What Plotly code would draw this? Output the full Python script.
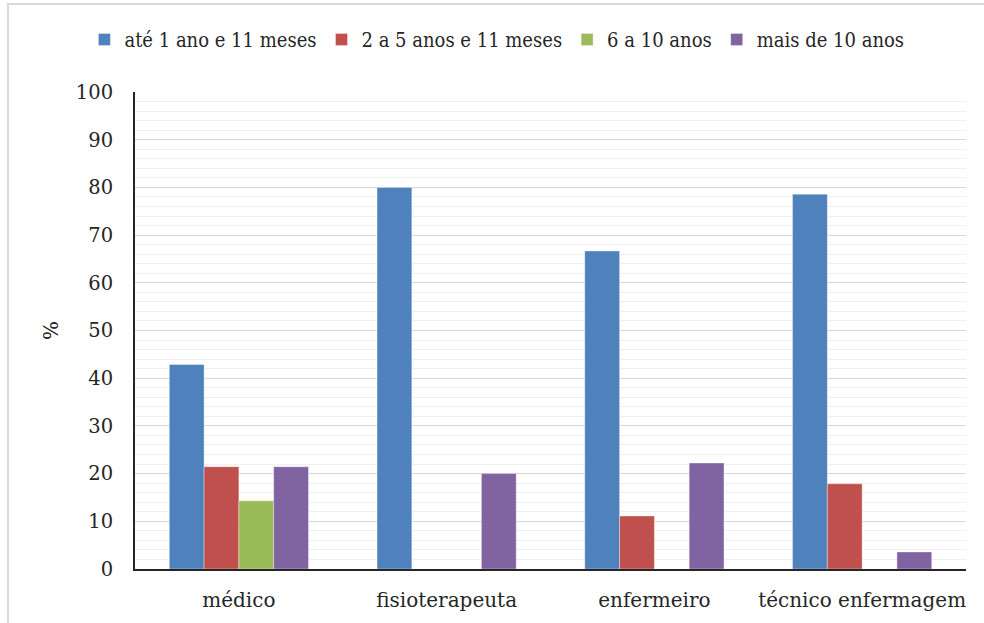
import plotly.graph_objects as go

# Categories and series (% of professionals by time in the service)
categorias = ["médico", "fisioterapeuta", "enfermeiro", "técnico enfermagem"]
series_nomes = ["até 1 ano e 11 meses", "2 a 5 anos e 11 meses", "6 a 10 anos", "mais de 10 anos"]
ate_1_ano = [42.86, 80.0, 66.67, 78.57]
de_2_a_5 = [21.43, 0, 11.11, 17.86]
de_6_a_10 = [14.29, 0, 0, 0]
mais_de_10 = [21.43, 20.0, 22.22, 3.57]
cores = ["#4f81bd", "#c0504d", "#9bbb59", "#8064a2"]
y_ticks = [0, 10, 20, 30, 40, 50, 60, 70, 80, 90, 100]

W, H = 984, 623
ML, MR, MT, MB = 135, 18, 92, 54

fig = go.Figure()
for nome, vals, cor in zip(series_nomes, [ate_1_ano, de_2_a_5, de_6_a_10, mais_de_10], cores):
    fig.add_trace(go.Bar(
        x=categorias, y=vals, name=nome,
        marker=dict(color=cor, line=dict(color="rgba(255,255,255,0.35)", width=1)),
    ))

pw = W - ML - MR
ph = H - MT - MB
# light outer frame of the chart area
fig.add_shape(
    type="rect", xref="paper", yref="paper",
    x0=(8 - ML) / pw, x1=(W + 10 - ML) / pw,
    y0=-(H + 10 - MT - ph) / ph, y1=(H - MB - 4) / ph,
    line=dict(color="#d9d9d9", width=2), fillcolor="rgba(0,0,0,0)", layer="below",
)

serif = "DejaVu Serif"
fig.update_layout(
    width=W, height=H,
    margin=dict(l=ML, r=MR, t=MT, b=MB, autoexpand=False),
    paper_bgcolor="white", plot_bgcolor="white",
    barmode="group", bargap=0.33, bargroupgap=0,
    font=dict(family=serif, size=19, color="#262626"),
    legend=dict(
        orientation="h", x=0.505, xanchor="center", xref="container",
        y=0.968, yanchor="top", yref="container",
        font=dict(family="DejaVu Serif Condensed", size=20),
        itemwidth=30, traceorder="normal", tracegroupgap=0,
    ),
    xaxis=dict(
        showline=True, linecolor="#262626", linewidth=2,
        ticks="", tickfont=dict(size=20), showgrid=False,
        ticklabelstandoff=12,
    ),
    yaxis=dict(
        range=[0, 100], tickvals=y_ticks, ticks="",
        showline=True, linecolor="#262626", linewidth=2,
        showgrid=True, gridcolor="#d9d9d9", gridwidth=1,
        minor=dict(dtick=2, showgrid=True, gridcolor="#f0f0f0", gridwidth=1),
        tickfont=dict(size=19.5), ticklabelstandoff=16,
        title=dict(text="%", font=dict(size=20), standoff=12),
    ),
)

fig.write_html("out.html")
